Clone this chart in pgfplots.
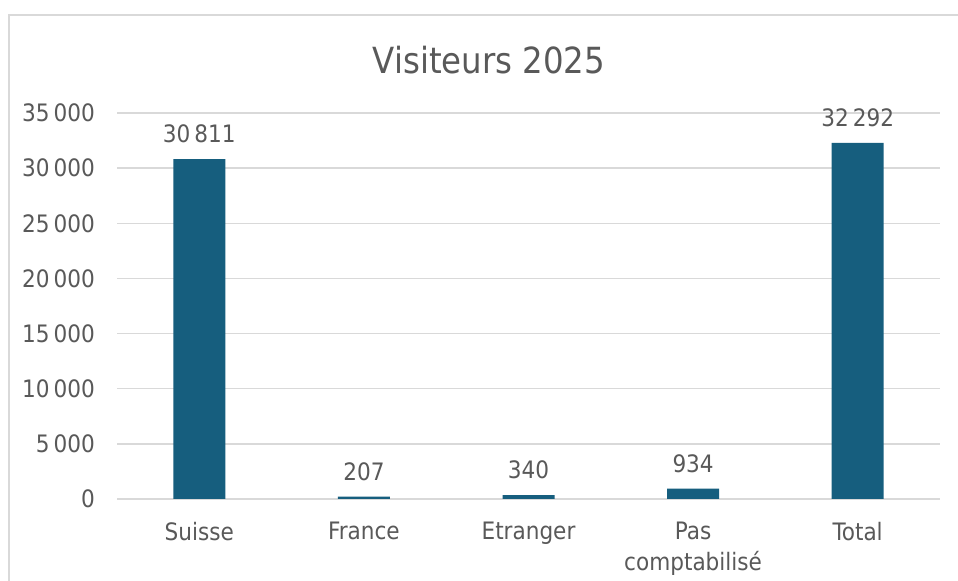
\documentclass[border=0pt]{standalone}
\usepackage{fontspec}
\setmainfont{DejaVu Sans Condensed}
\usepackage{pgfplots}
\pgfplotsset{compat=1.18}

\definecolor{barblue}{RGB}{22,94,126}
\definecolor{txtgray}{RGB}{89,89,89}
\definecolor{gridgray}{RGB}{217,217,217}

\begin{document}
\begin{tikzpicture}[x=1bp,y=1bp]
\path[use as bounding box] (0,0) rectangle (958,581);
\fill[white] (0,0) rectangle (958,581);
% chart frame (left and top edges are visible)
\draw[gridgray, line width=2.5bp] (9,0) -- (9,566) -- (958,566);

\node[txtgray, font=\fontsize{36bp}{40bp}\selectfont] at (489,521) {Visiteurs 2025};

\begin{axis}[
    at={(117bp,82bp)}, anchor=south west,
    scale only axis,
    width=823bp, height=386bp,
    xmin=-0.5, xmax=4.5,
    ymin=0, ymax=35000,
    ytick distance=5000,
    scaled y ticks=false,
    yticklabel style={/pgf/number format/fixed},
    xtick={0,1,2,3,4},
    xticklabels={Suisse, France, Etranger, {Pas\\comptabilisé}, Total},
    axis line style={draw=none},
    major tick length=0pt,
    ymajorgrids,
    grid style={gridgray, line width=1.5bp},
    font=\fontsize{24bp}{31bp}\selectfont,
    tick label style={txtgray},
    yticklabel style={inner sep=0pt, xshift=-22bp},
    xticklabel style={inner sep=0pt, yshift=-23bp, align=center},
    /pgf/number format/.cd, 1000 sep={\,}, assume math mode=true,
]
\addplot[ybar, bar width=52bp, fill=barblue, draw=none,
    nodes near coords,
    every node near coord/.append style={txtgray, inner sep=0pt, anchor=south, yshift=16bp,
        /pgf/number format/1000 sep={\,}, /pgf/number format/assume math mode=true},
] coordinates {
    (0,30811) (1,207) (2,340) (3,934) (4,32292)
};
\end{axis}
\end{tikzpicture}
\end{document}
